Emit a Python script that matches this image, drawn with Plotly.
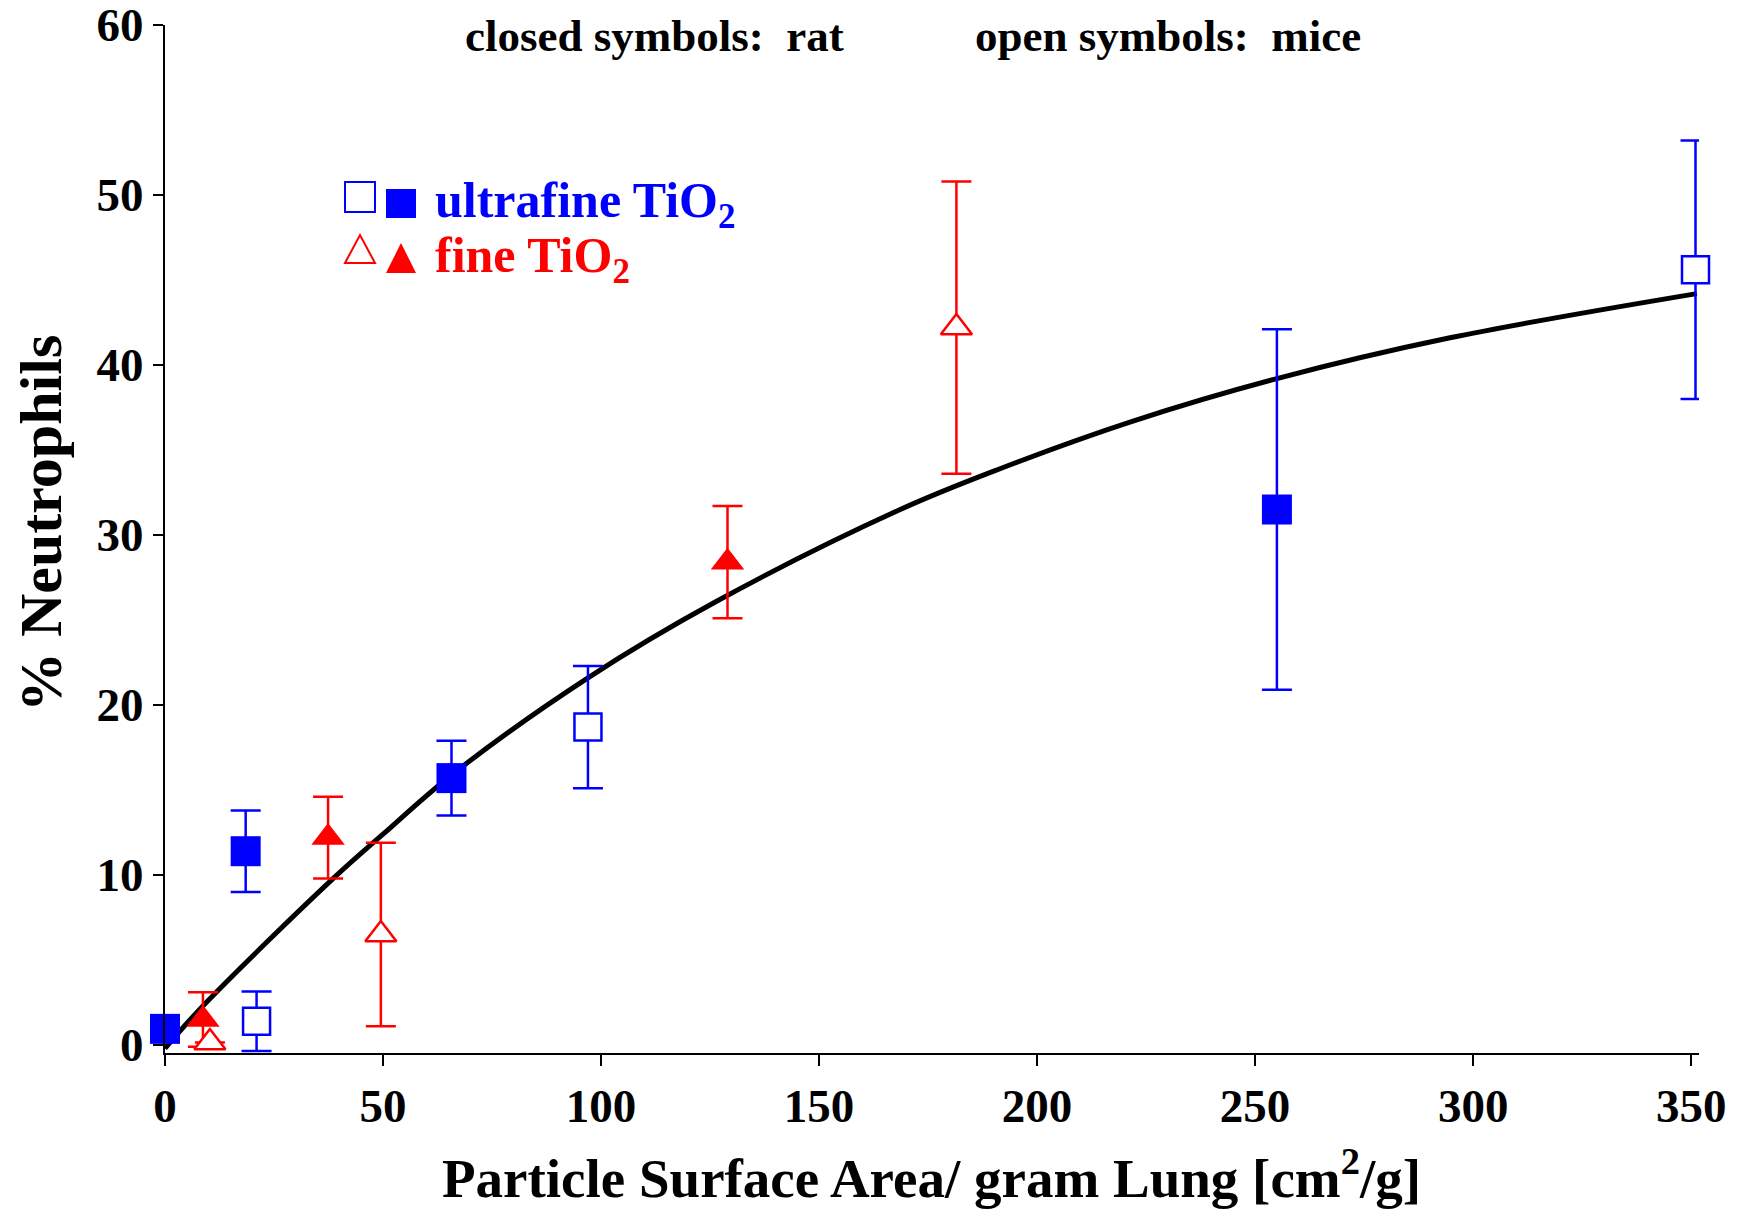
import plotly.graph_objects as go

# ---------------- data ----------------
# ultrafine TiO2, rat (closed squares)
uf_rat_x = [0.0, 18.5, 65.7, 255.0]
uf_rat_y = [0.95, 11.4, 15.7, 31.5]
uf_rat_err = [0.5, 2.4, 2.2, 10.6]

# ultrafine TiO2, mice (open squares)
uf_mice_x = [21.0, 97.0, 351.0]
uf_mice_y = [1.4, 18.7, 45.6]
uf_mice_err = [1.75, 3.6, 7.6]

# fine TiO2, rat (closed triangles)
f_rat_x = [8.7, 37.4, 129.0]
f_rat_y = [1.5, 12.2, 28.4]
f_rat_err = [1.6, 2.4, 3.3]

# fine TiO2, mice (open triangles)
f_mice_x = [10.3, 49.5, 181.5]
f_mice_y = [0.15, 6.5, 42.2]
f_mice_err = [0.0, 5.4, 8.6]

# fitted curve, points
fit_x = [0, 8.7, 38.6, 50, 65.8, 97, 126.5, 168.6, 191.5, 222, 255, 294.7, 351.3]
fit_y = [-0.2, 2.3, 9.8, 12.4, 15.9, 21.6, 26.1, 31.5, 33.9, 36.7, 39.2, 41.6, 44.2]

x_ticks = [0, 50, 100, 150, 200, 250, 300, 350]
y_ticks = [0, 10, 20, 30, 40, 50, 60]

BLUE = "#0000FF"
RED = "#FF0000"
FONT = "Liberation Serif"

# ---------------- layout geometry ----------------
W, H = 1739, 1209
L, R, T, B = 165, 1699, 25, 1053  # plot area in px


def px(xp):
    return (xp - L) / (R - L)


def py(yp):
    return (B - yp) / (B - T)


fig = go.Figure()

fig.add_trace(go.Scatter(
    x=fit_x, y=fit_y, mode="lines",
    line=dict(color="black", width=5, shape="spline", smoothing=1.0),
    hoverinfo="skip", cliponaxis=False,
))


def err(arr, color):
    return dict(type="data", array=arr, symmetric=True, color=color,
                thickness=2.5, width=15, visible=True)


fig.add_trace(go.Scatter(
    x=uf_rat_x, y=uf_rat_y, mode="markers", name="ultrafine TiO2 rat",
    marker=dict(symbol="square", size=30, color=BLUE, line=dict(width=0)),
    error_y=err(uf_rat_err, BLUE), cliponaxis=False,
))
fig.add_trace(go.Scatter(
    x=uf_mice_x, y=uf_mice_y, mode="markers", name="ultrafine TiO2 mice",
    marker=dict(symbol="square", size=27, color="white", line=dict(width=2.5, color=BLUE)),
    error_y=err(uf_mice_err, BLUE), cliponaxis=False,
))
fig.add_trace(go.Scatter(
    x=f_rat_x, y=f_rat_y, mode="markers", name="fine TiO2 rat",
    marker=dict(symbol="triangle-up", size=29, color=RED, line=dict(width=0)),
    error_y=err(f_rat_err, RED), cliponaxis=False,
))
fig.add_trace(go.Scatter(
    x=f_mice_x, y=f_mice_y, mode="markers", name="fine TiO2 mice",
    marker=dict(symbol="triangle-up", size=27, color="white", line=dict(width=2.5, color=RED)),
    error_y=err(f_mice_err, RED), cliponaxis=True,
))

tickfont = dict(family=FONT, size=47, color="black", weight="bold")

fig.update_xaxes(
    range=[0, 351.8], tickmode="array", tickvals=x_ticks,
    ticktext=[str(v) for v in x_ticks],
    showline=True, linecolor="black", linewidth=2,
    ticks="outside", ticklen=11, tickwidth=2, tickcolor="black",
    showgrid=False, zeroline=False, tickfont=tickfont,
    ticklabeloverflow="allow", automargin=False,
)
fig.update_yaxes(
    range=[-0.47, 60.001], tickmode="array", tickvals=y_ticks,
    ticktext=[str(v) for v in y_ticks],
    showline=True, linecolor="black", linewidth=2,
    ticks="outside", ticklen=10, tickwidth=2, tickcolor="black",
    showgrid=False, zeroline=False, tickfont=tickfont,
    ticklabeloverflow="allow", automargin=False,
)

annotations = [
    dict(text="% Neutrophils", x=px(41), y=py(524), xref="paper", yref="paper",
         textangle=-90, showarrow=False, xanchor="center", yanchor="middle",
         font=dict(family=FONT, size=60, color="black", weight="bold")),
    dict(text="Particle Surface Area/ gram Lung [cm<sup>2</sup>/g]",
         x=px(931), y=py(1174), xref="paper", yref="paper",
         showarrow=False, xanchor="center", yanchor="middle",
         font=dict(family=FONT, size=55, color="black", weight="bold")),
    dict(text="closed symbols:\u00a0 rat", x=px(463), y=py(36), xref="paper", yref="paper",
         showarrow=False, xanchor="left", yanchor="middle",
         font=dict(family=FONT, size=45, color="black", weight="bold")),
    dict(text="open symbols:\u00a0 mice", x=px(973), y=py(36), xref="paper", yref="paper",
         showarrow=False, xanchor="left", yanchor="middle",
         font=dict(family=FONT, size=45, color="black", weight="bold")),
    dict(text="ultrafine TiO<sub>2</sub>", x=px(433), y=py(204), xref="paper", yref="paper",
         showarrow=False, xanchor="left", yanchor="middle",
         font=dict(family=FONT, size=50, color=BLUE, weight="bold")),
    dict(text="fine TiO<sub>2</sub>", x=px(433), y=py(259), xref="paper", yref="paper",
         showarrow=False, xanchor="left", yanchor="middle",
         font=dict(family=FONT, size=50, color=RED, weight="bold")),
]


def tri(x0, x1, xm, yb, yt):
    return f"M {px(x0)},{py(yb)} L {px(x1)},{py(yb)} L {px(xm)},{py(yt)} Z"


shapes = [
    dict(type="rect", xref="paper", yref="paper", x0=px(345), x1=px(375), y0=py(212), y1=py(182),
         line=dict(color=BLUE, width=2), fillcolor="white"),
    dict(type="rect", xref="paper", yref="paper", x0=px(386), x1=px(416), y0=py(218), y1=py(189),
         line=dict(color=BLUE, width=0), fillcolor=BLUE),
    dict(type="path", xref="paper", yref="paper", path=tri(345, 375, 360, 263, 235),
         line=dict(color=RED, width=2), fillcolor="white"),
    dict(type="path", xref="paper", yref="paper", path=tri(386, 416, 401, 273, 243),
         line=dict(color=RED, width=0), fillcolor=RED),
]

fig.update_layout(
    width=W, height=H,
    margin=dict(l=L, r=W - R, t=T, b=H - B, pad=0, autoexpand=False),
    paper_bgcolor="white", plot_bgcolor="white",
    showlegend=False,
    annotations=annotations, shapes=shapes,
)

fig.write_html("out.html")
